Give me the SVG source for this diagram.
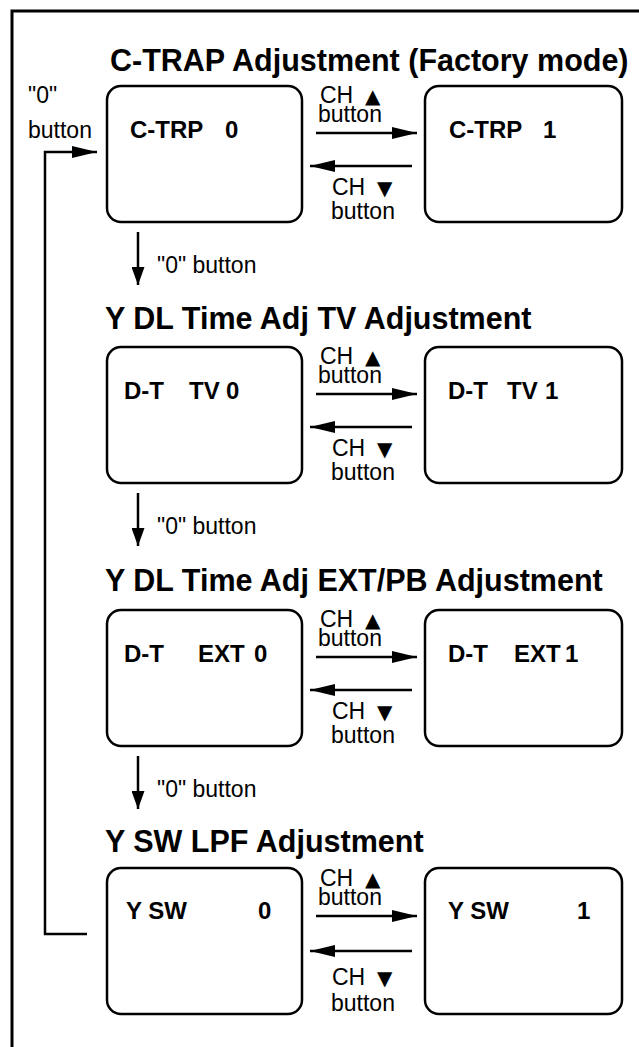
<svg xmlns="http://www.w3.org/2000/svg" width="639" height="1047" viewBox="0 0 639 1047">
<style>
.bg{fill:#fff}
.frame{fill:none;stroke:#000;stroke-width:3}
.box{fill:#fff;stroke:#000;stroke-width:2.5}
.ln{fill:none;stroke:#000;stroke-width:2.5}
.title{font-family:"Liberation Sans",Arial,sans-serif;font-weight:bold;font-size:30.5px;fill:#000}
.lbl{font-family:"Liberation Sans",Arial,sans-serif;font-weight:bold;font-size:24px;fill:#000}
.sm{font-family:"Liberation Sans",Arial,sans-serif;font-size:23px;fill:#000}
.tri{font-family:"DejaVu Sans",sans-serif;font-size:20px}
</style>
<defs>
<marker id="ah" markerUnits="userSpaceOnUse" markerWidth="26" markerHeight="12" refX="25" refY="6" orient="auto"><path d="M0,0 L25,6 L0,12 z" fill="#000"/></marker>
<marker id="ahv" markerUnits="userSpaceOnUse" markerWidth="19" markerHeight="13" refX="18" refY="6.5" orient="auto"><path d="M0,0 L18,6.5 L0,13 z" fill="#000"/></marker>
</defs>
<rect class="bg" x="0" y="0" width="639" height="1047"/>
<g id="frame"><path class="frame" d="M12,1050 V11 H642"/></g>

<g id="titles">
<text class="title" x="110" y="71">C-TRAP Adjustment (Factory mode)</text>
<text class="title" x="105" y="329">Y DL Time Adj TV Adjustment</text>
<text class="title" x="105" y="591">Y DL Time Adj EXT/PB Adjustment</text>
<text class="title" x="105" y="852">Y SW LPF Adjustment</text>
</g>

<g id="ctrp0"><rect class="box" x="107" y="86" width="195" height="136" rx="14"/><text class="lbl" x="130" y="138">C-TRP<tspan x="225">0</tspan></text></g>
<g id="ctrp1"><rect class="box" x="425" y="86" width="197" height="136" rx="14"/><text class="lbl" x="449" y="138">C-TRP<tspan x="543">1</tspan></text></g>

<g id="dttv0"><rect class="box" x="107" y="347" width="195" height="136" rx="14"/><text class="lbl" x="124" y="399">D-T<tspan x="189">TV</tspan><tspan x="226">0</tspan></text></g>
<g id="dttv1"><rect class="box" x="425" y="347" width="197" height="136" rx="14"/><text class="lbl" x="448" y="399">D-T<tspan x="507">TV</tspan><tspan x="545">1</tspan></text></g>

<g id="dtext0"><rect class="box" x="107" y="610" width="195" height="136" rx="14"/><text class="lbl" x="124" y="662">D-T<tspan x="198">EXT</tspan><tspan x="254">0</tspan></text></g>
<g id="dtext1"><rect class="box" x="425" y="610" width="197" height="136" rx="14"/><text class="lbl" x="448" y="662">D-T<tspan x="514">EXT</tspan><tspan x="565">1</tspan></text></g>

<g id="ysw0"><rect class="box" x="107" y="868" width="195" height="146" rx="14"/><text class="lbl" x="126" y="919">Y SW<tspan x="258">0</tspan></text></g>
<g id="ysw1"><rect class="box" x="425" y="868" width="197" height="146" rx="14"/><text class="lbl" x="448" y="919">Y SW<tspan x="577">1</tspan></text></g>

<g id="connectors">
<path class="ln" d="M87,934 H45 V152 H97" marker-end="url(#ah)"/>
<text class="sm" x="28" y="103">"0"</text>
<text class="sm" x="28" y="138">button</text>

<path class="ln" d="M316,133 H417" marker-end="url(#ah)"/>
<path class="ln" d="M412,166 H310" marker-end="url(#ah)"/>
<text class="sm" x="320" y="103">CH<tspan class="tri" x="365">▲</tspan></text>
<text class="sm" x="318" y="122">button</text>
<text class="sm" x="332" y="195">CH<tspan class="tri" x="377">▼</tspan></text>
<text class="sm" x="331" y="219">button</text>
<path class="ln" d="M138,232 V285" marker-end="url(#ahv)"/>
<text class="sm" x="157" y="273">"0" button</text>

<path class="ln" d="M316,394 H417" marker-end="url(#ah)"/>
<path class="ln" d="M412,427 H310" marker-end="url(#ah)"/>
<text class="sm" x="320" y="364">CH<tspan class="tri" x="365">▲</tspan></text>
<text class="sm" x="318" y="383">button</text>
<text class="sm" x="332" y="456">CH<tspan class="tri" x="377">▼</tspan></text>
<text class="sm" x="331" y="480">button</text>
<path class="ln" d="M138,493 V546" marker-end="url(#ahv)"/>
<text class="sm" x="157" y="534">"0" button</text>

<path class="ln" d="M316,657 H417" marker-end="url(#ah)"/>
<path class="ln" d="M412,690 H310" marker-end="url(#ah)"/>
<text class="sm" x="320" y="627">CH<tspan class="tri" x="365">▲</tspan></text>
<text class="sm" x="318" y="646">button</text>
<text class="sm" x="332" y="719">CH<tspan class="tri" x="377">▼</tspan></text>
<text class="sm" x="331" y="743">button</text>
<path class="ln" d="M138,756 V809" marker-end="url(#ahv)"/>
<text class="sm" x="157" y="797">"0" button</text>

<path class="ln" d="M316,916 H417" marker-end="url(#ah)"/>
<path class="ln" d="M412,951 H310" marker-end="url(#ah)"/>
<text class="sm" x="320" y="886">CH<tspan class="tri" x="365">▲</tspan></text>
<text class="sm" x="318" y="905">button</text>
<text class="sm" x="332" y="985">CH<tspan class="tri" x="377">▼</tspan></text>
<text class="sm" x="331" y="1011">button</text>
</g>
</svg>
